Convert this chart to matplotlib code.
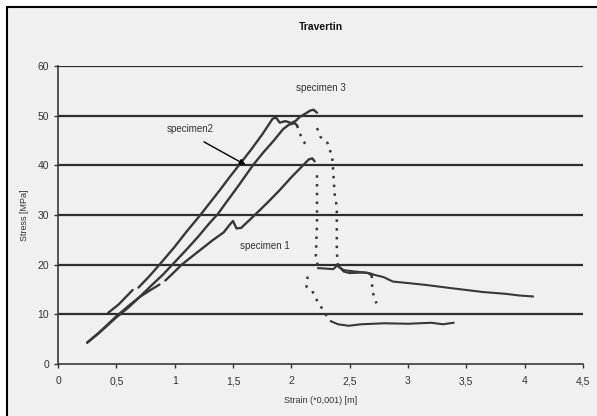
"""Stress-strain curves of three travertine specimens."""

import matplotlib.pyplot as plt
from matplotlib.patches import Rectangle

plt.rcParams["font.family"] = ["Liberation Sans", "DejaVu Sans"]

# specimen 3 (steepest curve)
s3_rise_a_x = [0.43, 0.52, 0.64]
s3_rise_a_y = [10.3, 12.0, 14.9]
s3_rise_b_x = [0.69, 0.78, 0.87, 1.0, 1.1, 1.22, 1.3, 1.4, 1.47, 1.55, 1.65, 1.75,
               1.84, 1.87, 1.9, 1.95, 2.0, 2.04, 2.07, 2.12, 2.16, 2.19, 2.22]
s3_rise_b_y = [15.4, 17.6, 20.0, 23.6, 26.6, 30.0, 32.4, 35.4, 37.6, 40.0, 43.0, 46.2,
               49.4, 49.6, 48.6, 48.9, 48.5, 49.0, 49.7, 50.4, 51.0, 51.2, 50.6]
s3_drop_x = [2.22, 2.25, 2.31, 2.35, 2.36, 2.37, 2.39, 2.39, 2.4]
s3_drop_y = [47.5, 45.7, 44.5, 41.7, 38.4, 34.4, 31.6, 22.5, 19.8]
s3_tail_x = [2.4, 2.45, 2.5, 2.6, 2.67, 2.72, 2.79, 2.87, 3.0, 3.16, 3.36, 3.5,
             3.64, 3.85, 3.95, 4.07]
s3_tail_y = [19.8, 18.6, 18.3, 18.4, 18.3, 17.9, 17.5, 16.6, 16.3, 15.9, 15.3, 14.9,
             14.5, 14.1, 13.8, 13.6]

# specimen 2 (middle curve)
s2_rise_x = [0.25, 0.35, 0.5, 0.6, 0.7, 0.8, 0.9, 0.98, 1.1, 1.2, 1.3, 1.37, 1.45,
             1.55, 1.67, 1.76, 1.85, 1.93, 1.98, 2.03, 2.05]
s2_rise_y = [4.3, 6.2, 9.4, 11.3, 13.5, 15.8, 18.0, 20.0, 23.0, 25.6, 28.4, 30.2, 32.8,
             36.0, 40.0, 42.6, 45.0, 47.3, 48.2, 48.5, 48.0]
s2_drop_x = [2.05, 2.07, 2.1, 2.13]
s2_drop_y = [48.0, 46.5, 45.2, 43.7]
s2_drop2_x = [2.14, 2.13, 2.15, 2.18, 2.2, 2.23, 2.26, 2.3, 2.34]
s2_drop2_y = [17.6, 15.6, 15.2, 14.7, 13.6, 12.4, 11.3, 9.8, 8.6]
s2_tail_x = [2.34, 2.4, 2.49, 2.6, 2.8, 3.0, 3.2, 3.3, 3.39]
s2_tail_y = [8.6, 8.0, 7.7, 8.0, 8.2, 8.1, 8.3, 8.0, 8.3]

# specimen 1 (flattest curve)
s1_rise_a_x = [0.25, 0.35, 0.5, 0.6, 0.7, 0.8, 0.87]
s1_rise_a_y = [4.3, 6.3, 9.6, 11.6, 13.5, 15.0, 16.0]
s1_rise_b_x = [0.92, 1.0, 1.06, 1.2, 1.33, 1.42, 1.47, 1.5, 1.53, 1.57, 1.7, 1.8,
               1.9, 2.0, 2.1, 2.15, 2.18, 2.2]
s1_rise_b_y = [16.8, 18.6, 20.0, 22.6, 25.0, 26.5, 28.0, 28.8, 27.3, 27.4, 30.3, 32.6,
               35.0, 37.6, 40.0, 41.2, 41.4, 40.8]
s1_drop_x = [2.22, 2.22, 2.22, 2.22, 2.22, 2.21, 2.22, 2.23]
s1_drop_y = [38.0, 35.6, 33.6, 31.0, 28.4, 21.7, 20.5, 19.5]
s1_tail_x = [2.23, 2.3, 2.36, 2.39, 2.45, 2.55, 2.65, 2.69]
s1_tail_y = [19.3, 19.2, 19.1, 19.8, 18.9, 18.6, 18.4, 17.8]
s1_drop2_x = [2.69, 2.69, 2.7, 2.71, 2.73]
s1_drop2_y = [17.8, 16.3, 14.3, 13.5, 12.2]

x_ticks = [0, 0.5, 1, 1.5, 2, 2.5, 3, 3.5, 4, 4.5]
x_tick_labels = ["0", "0,5", "1", "1,5", "2", "2,5", "3", "3,5", "4", "4,5"]
y_ticks = [0, 10, 20, 30, 40, 50, 60]

LINE = "#383838"
BG = "#f0f0f0"
TEXT = "#333333"

fig = plt.figure(figsize=(5.97, 4.16), dpi=100, facecolor="white")
frame = Rectangle((7 / 597, -0.1), 1.2, 1.1 - 7 / 416,
                  transform=fig.transFigure, facecolor=BG,
                  edgecolor="black", linewidth=1.5, zorder=-5)
fig.patches.append(frame)
ax = fig.add_axes([58 / 597, 1 - 364 / 416, 525 / 597, 298 / 416])
ax.set_facecolor(BG)

for y in y_ticks[1:]:
    ax.axhline(y, color="#2e2e2e", linewidth=1.6, zorder=1)

solid = dict(color=LINE, linewidth=1.7, solid_capstyle="round", zorder=3)
tail = dict(color=LINE, linewidth=1.5, zorder=3)
dots = dict(color=LINE, linewidth=1.8, linestyle=(0, (1, 2.5)), zorder=3)

ax.plot(s3_rise_a_x, s3_rise_a_y, **solid)
ax.plot(s3_rise_b_x, s3_rise_b_y, **solid)
ax.plot(s3_drop_x, s3_drop_y, **dots)
ax.plot(s3_tail_x, s3_tail_y, **tail)

ax.plot(s2_rise_x, s2_rise_y, **solid)
ax.plot(s2_drop_x, s2_drop_y, **dots)
ax.plot(s2_drop2_x, s2_drop2_y, **dots)
ax.plot(s2_tail_x, s2_tail_y, **tail)

ax.plot(s1_rise_a_x, s1_rise_a_y, **solid)
ax.plot(s1_rise_b_x, s1_rise_b_y, **solid)
ax.plot(s1_drop_x, s1_drop_y, **dots)
ax.plot(s1_tail_x, s1_tail_y, **tail)
ax.plot(s1_drop2_x, s1_drop2_y, **dots)

ax.text(2.25, 55.5, "specimen 3", fontsize=7, ha="center", va="center", color=TEXT)
ax.text(1.13, 47.3, "specimen2", fontsize=7, ha="center", va="center", color=TEXT)
ax.text(1.77, 23.7, "specimen 1", fontsize=7, ha="center", va="center", color=TEXT)
ax.annotate("", xy=(1.63, 39.8), xytext=(1.23, 45.0),
            arrowprops=dict(arrowstyle="-|>", color="black", linewidth=1.0,
                            mutation_scale=9))

ax.set_xlim(0, 4.5)
ax.set_ylim(0, 60)
ax.set_xticks(x_ticks)
ax.set_xticklabels(x_tick_labels)
ax.set_yticks(y_ticks)
ax.tick_params(axis="both", labelsize=7.5, colors=TEXT, length=3, width=1.0)
ax.tick_params(axis="x", pad=6)
for side in ("top", "right"):
    ax.spines[side].set_visible(False)
for side in ("left", "bottom"):
    ax.spines[side].set_color("#3a3a3a")
    ax.spines[side].set_linewidth(1.2)

ax.set_xlabel("Strain (*0,001) [m]", fontsize=6.5, labelpad=7, color=TEXT)
ax.set_ylabel("Stress [MPa]", fontsize=6.5, labelpad=6, color=TEXT)
ax.set_title("Travertin", fontsize=7.5, fontweight="bold", pad=26, color="#111111")

fig.savefig("out.png", dpi=100, facecolor=fig.get_facecolor())
